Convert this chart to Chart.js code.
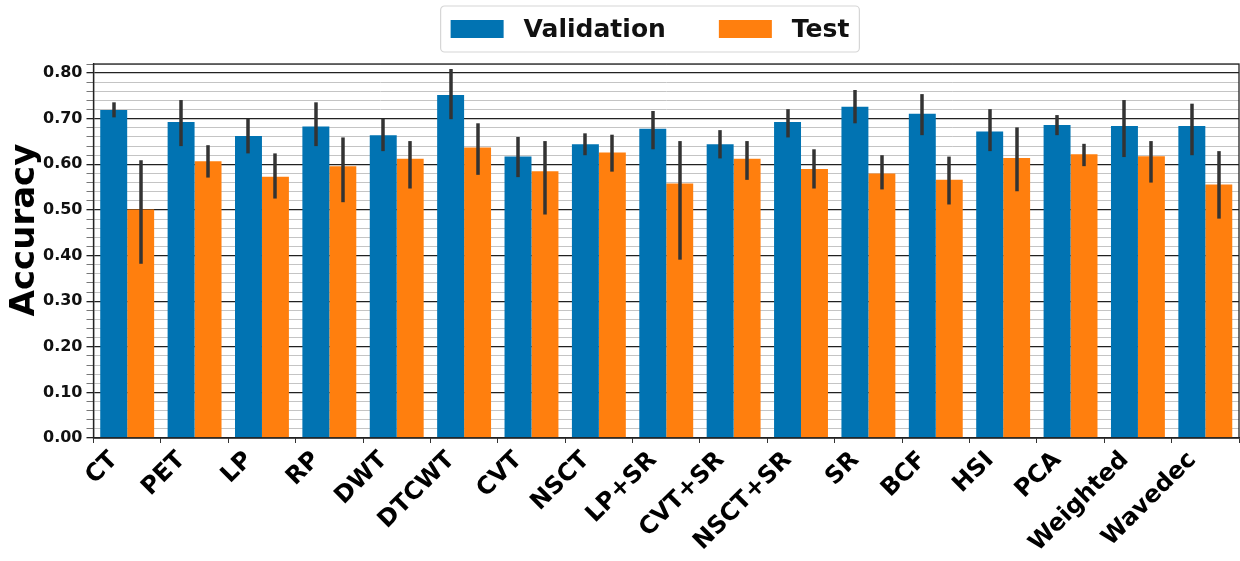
<!DOCTYPE html>
<html>
<head>
<meta charset="utf-8">
<style>
  html, body { margin: 0; padding: 0; background: #ffffff; }
  #wrap { width: 1240px; height: 561px; position: relative; }
</style>
<script src="https://cdn.jsdelivr.net/npm/chart.js@4/dist/chart.umd.min.js"></script>
</head>
<body>
<div id="wrap"><canvas id="chart" width="1240" height="561"></canvas></div>
<script>
// Fusion methods compared
const methods = ['CT', 'PET', 'LP', 'RP', 'DWT', 'DTCWT', 'CVT', 'NSCT', 'LP+SR', 'CVT+SR',
                 'NSCT+SR', 'SR', 'BCF', 'HSI', 'PCA', 'Weighted', 'Wavedec'];

// Mean accuracy per method
const validationMean = [0.719, 0.693, 0.662, 0.683, 0.664, 0.752, 0.617, 0.644, 0.678, 0.644,
                        0.693, 0.726, 0.711, 0.672, 0.686, 0.684, 0.684];
const testMean       = [0.501, 0.607, 0.573, 0.596, 0.612, 0.637, 0.585, 0.626, 0.558, 0.612,
                        0.590, 0.580, 0.566, 0.614, 0.622, 0.618, 0.556];

// Spread of accuracy (lower / upper end of each error bar)
const validationLow  = [0.703, 0.640, 0.624, 0.640, 0.629, 0.699, 0.572, 0.620, 0.633, 0.613,
                        0.659, 0.690, 0.664, 0.629, 0.664, 0.616, 0.620];
const validationHigh = [0.736, 0.741, 0.700, 0.736, 0.700, 0.809, 0.660, 0.668, 0.717, 0.675,
                        0.721, 0.763, 0.754, 0.721, 0.708, 0.741, 0.733];
const testLow        = [0.382, 0.571, 0.525, 0.517, 0.547, 0.577, 0.490, 0.584, 0.391, 0.566,
                        0.547, 0.545, 0.512, 0.541, 0.596, 0.560, 0.481];
const testHigh       = [0.609, 0.642, 0.624, 0.659, 0.651, 0.690, 0.651, 0.665, 0.651, 0.651,
                        0.633, 0.620, 0.617, 0.681, 0.645, 0.651, 0.629];

const seriesNames = ['Validation', 'Test'];
const seriesColors = ['#0173b2', '#ff7f0e'];
const yAxisTitle = 'Accuracy';

const FONT = '"DejaVu Sans", sans-serif';
const isMajor = v => Math.abs(v * 10 - Math.round(v * 10)) < 1e-6;

// Whiskers drawn through the y scale at each bar's centre
const errorBars = {
  id: 'errorBars',
  afterDatasetsDraw(chart) {
    const ctx = chart.ctx;
    const y = chart.scales.y;
    const ranges = [[validationLow, validationHigh], [testLow, testHigh]];
    ctx.save();
    ctx.strokeStyle = '#333333';
    ctx.lineWidth = 3.5;
    ctx.lineCap = 'butt';
    chart.data.datasets.forEach((ds, i) => {
      const meta = chart.getDatasetMeta(i);
      meta.data.forEach((bar, j) => {
        const x = Math.round(bar.x);
        ctx.beginPath();
        ctx.moveTo(x, y.getPixelForValue(ranges[i][0][j]));
        ctx.lineTo(x, y.getPixelForValue(ranges[i][1][j]));
        ctx.stroke();
      });
    });
    ctx.restore();
  }
};

// Frame around the plotting area, plus the vertical axis title
const frame = {
  id: 'frame',
  afterDraw(chart) {
    const a = chart.chartArea;
    const ctx = chart.ctx;
    ctx.save();
    ctx.strokeStyle = '#222222';
    ctx.lineWidth = 1.3;
    ctx.strokeRect(a.left, a.top, a.right - a.left, a.bottom - a.top);
    ctx.translate(34, 230);
    ctx.rotate(-Math.PI / 2);
    ctx.font = 'bold 34px ' + FONT;
    ctx.fillStyle = '#000000';
    ctx.textAlign = 'center';
    ctx.textBaseline = 'alphabetic';
    ctx.fillText(yAxisTitle, 0, 0);
    ctx.restore();
  }
};

// Boxed legend above the plot
const boxedLegend = {
  id: 'boxedLegend',
  afterDraw(chart) {
    const ctx = chart.ctx;
    ctx.save();
    ctx.font = 'bold 25px ' + FONT;
    const sw = 53, sh = 18, gapText = 20, gapItem = 53, padX = 10;
    const widths = seriesNames.map(n => ctx.measureText(n).width);
    let total = padX * 2;
    widths.forEach((w, i) => { total += sw + gapText + w + (i ? gapItem : 0); });
    const left = 650 - total / 2, top = 6, h = 46;
    ctx.fillStyle = 'rgba(255,255,255,0.9)';
    ctx.strokeStyle = '#d6d6d6';
    ctx.lineWidth = 1.2;
    ctx.beginPath();
    ctx.roundRect(left, top, total, h, 4);
    ctx.fill();
    ctx.stroke();
    let x = left + padX;
    const cy = top + h / 2;
    seriesNames.forEach((n, i) => {
      if (i) x += gapItem;
      ctx.fillStyle = seriesColors[i];
      ctx.fillRect(x, cy - sh / 2, sw, sh);
      x += sw + gapText;
      ctx.fillStyle = '#111111';
      ctx.textBaseline = 'middle';
      ctx.textAlign = 'left';
      ctx.fillText(n, x, cy + 1);
      x += widths[i];
    });
    ctx.restore();
  }
};

new Chart(document.getElementById('chart'), {
  type: 'bar',
  data: {
    labels: methods,
    datasets: [
      { label: seriesNames[0], data: validationMean, backgroundColor: seriesColors[0] },
      { label: seriesNames[1], data: testMean, backgroundColor: seriesColors[1] }
    ]
  },
  options: {
    responsive: false,
    animation: false,
    devicePixelRatio: 1,
    layout: { padding: { top: 64, right: 1, left: 0, bottom: 0 } },
    datasets: { bar: { categoryPercentage: 0.8, barPercentage: 1.0 } },
    plugins: {
      legend: { display: false },
      tooltip: { enabled: false }
    },
    scales: {
      x: {
        offset: true,
        grid: { display: true, drawOnChartArea: false, drawTicks: true, tickLength: 5, color: '#333333' },
        border: { color: '#222222', width: 1.3 },
        ticks: {
          autoSkip: false,
          maxRotation: 45,
          minRotation: 45,
          padding: 3,
          labelOffset: -13,
          color: '#000000',
          font: { family: FONT, weight: 'bold', size: 24 }
        },
        afterFit(scale) { scale.height = 123; }
      },
      y: {
        min: 0,
        max: 0.82,
        grid: {
          color: c => isMajor(c.tick.value) ? '#222222' : '#c4c4c4',
          lineWidth: c => isMajor(c.tick.value) ? 1.3 : 1,
          tickColor: c => isMajor(c.tick.value) ? '#222222' : '#777777',
          tickLength: 7
        },
        border: { color: '#222222', width: 1.3 },
        ticks: {
          stepSize: 0.02,
          autoSkip: false,
          padding: 4,
          color: '#111111',
          font: { family: FONT, weight: 'bold', size: 16 },
          callback: v => isMajor(v) ? v.toFixed(2) : ''
        },
        afterFit(scale) { scale.width = 93.5; }
      }
    }
  },
  plugins: [errorBars, frame, boxedLegend]
});
</script>
</body>
</html>
